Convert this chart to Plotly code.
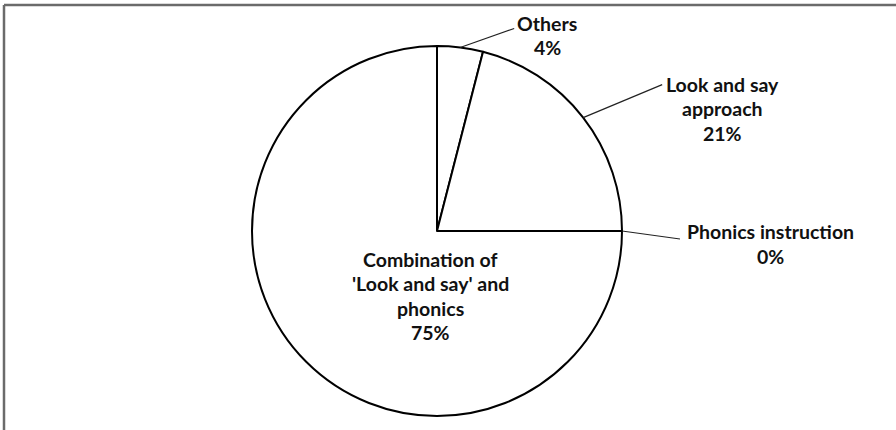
import math
import plotly.graph_objects as go

# ---- data ----
categories = ["Others", "Look and say approach", "Phonics instruction",
              "Combination of 'Look and say' and phonics"]
values = [4, 21, 0, 75]
label_lines = [["Others", "4%"],
               ["Look and say", "approach", "21%"],
               ["Phonics instruction", "0%"],
               ["Combination of", "'Look and say' and", "phonics", "75%"]]

W, H = 896, 430
CX, CY, R = 437, 231, 185  # pie geometry in px

def px(x):
    return x / W

def py(y):
    return 1 - y / H

fig = go.Figure()
fig.add_trace(go.Pie(
    labels=categories, values=values, sort=False, direction="clockwise",
    rotation=0, textinfo="none", hoverinfo="label+percent",
    marker=dict(colors=["white"] * 4, line=dict(color="black", width=2)),
    domain=dict(x=[px(CX - R), px(CX + R)], y=[py(CY + R), py(CY - R)]),
    showlegend=False,
))

# label placement: (text-block center offset from slice edge point, leader end offset)
layout_spec = [
    dict(center=(87, -12), leader=(54, -19), outside=True),
    dict(center=(139, -9), leader=(79, -33), outside=True),
    dict(center=(148, 13), leader=(58, 8), outside=True),
    dict(center=None, inside=(430, 296), outside=False),
]
LINE_H = 24.5
font = dict(family="Lato", size=19.5, color="#111111")

total = sum(values)
cum = 0
annotations = []
shapes = []
for i, v in enumerate(values):
    mid = (cum + v / 2) / total * 2 * math.pi
    cum += v
    ex = CX + R * math.sin(mid)
    ey = CY - R * math.cos(mid)
    spec = layout_spec[i]
    if spec["outside"]:
        bx, by = ex + spec["center"][0], ey + spec["center"][1]
        lx, ly = ex + spec["leader"][0], ey + spec["leader"][1]
        shapes.append(dict(type="line", xref="paper", yref="paper",
                           x0=px(ex), y0=py(ey), x1=px(lx), y1=py(ly),
                           line=dict(color="#222222", width=1.2)))
    else:
        bx, by = spec["inside"]
    lines = label_lines[i]
    n = len(lines)
    for k, t in enumerate(lines):
        yy = by + (k - (n - 1) / 2) * LINE_H
        annotations.append(dict(text="<b>%s</b>" % t, x=px(bx), y=py(yy),
                                xref="paper", yref="paper", showarrow=False,
                                xanchor="center", yanchor="middle", font=font))

# chart frame (top and left edges)
shapes.append(dict(type="line", xref="paper", yref="paper", x0=px(4), y0=0,
                   x1=px(4), y1=py(5), line=dict(color="#6b6b6b", width=2.5)))
shapes.append(dict(type="line", xref="paper", yref="paper", x0=px(4), y0=py(5),
                   x1=1, y1=py(5), line=dict(color="#6b6b6b", width=2.5)))

fig.update_layout(width=W, height=H, margin=dict(l=0, r=0, t=0, b=0),
                  paper_bgcolor="white", plot_bgcolor="white",
                  annotations=annotations, shapes=shapes)
fig.write_html("out.html")
